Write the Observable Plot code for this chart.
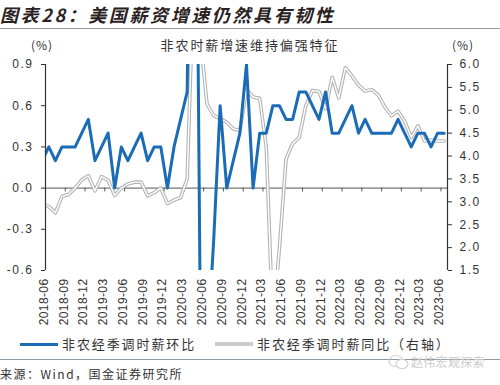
<!DOCTYPE html>
<html><head><meta charset="utf-8">
<script src="https://cdn.jsdelivr.net/npm/d3@7"></script>
<script src="https://cdn.jsdelivr.net/npm/@observablehq/plot@0.6"></script>
<style>
body{margin:0;background:#fff;}
#root{position:relative;width:500px;height:385px;overflow:hidden;background:#fff;font-family:"Noto Sans CJK SC","Noto Sans",sans-serif;color:#333;}
.abs{position:absolute;white-space:nowrap;}
.cn{font-size:13px;line-height:16px;letter-spacing:1.9px;color:#333;}
#chart{position:absolute;left:0;top:30px;}
</style></head><body><div id="root">
<div class="abs" style="left:0;top:3px;font-size:18px;line-height:22px;font-weight:bold;font-style:italic;letter-spacing:2.6px;color:#2a2222;">图表28：美国薪资增速仍然具有韧性</div>
<div class="abs" style="left:0;top:28px;width:500px;height:1px;background:#9a9a9a;"></div>
<div class="abs cn" style="left:31px;top:37px;font-size:12px;letter-spacing:1px;">(%)</div>
<div class="abs cn" style="left:452px;top:37px;font-size:12px;letter-spacing:1px;">(%)</div>
<div class="abs cn" style="left:0;top:37px;width:500px;text-align:center;">非农时薪增速维持偏强特征</div>
<div id="chart"></div>
<div class="abs" style="left:20px;top:343px;width:38px;height:3px;background:#1a6cb6;"></div>
<div class="abs cn" style="left:62px;top:336px;">非农经季调时薪环比</div>
<div class="abs" style="left:215px;top:342px;width:38px;height:4px;background:#cdcdcd;"></div>
<div class="abs cn" style="left:257px;top:336px;">非农经季调时薪同比（右轴）</div>
<div class="abs" style="left:0;top:359px;width:500px;height:1px;background:#8c9aa6;"></div>
<svg class="abs" style="left:388px;top:354px;" width="22" height="16"><ellipse cx="8" cy="7" rx="7" ry="5.5" fill="none" stroke="#cfcfcf" stroke-width="1.2"/><ellipse cx="14" cy="10" rx="6" ry="4.5" fill="#fff" stroke="#cfcfcf" stroke-width="1.2"/></svg>
<div class="abs" style="left:411px;top:354px;font-size:12px;line-height:16px;letter-spacing:0.3px;color:#cbcbcb;">赵伟宏观探索</div>
<div class="abs" style="left:0;top:366px;font-size:12px;line-height:15px;letter-spacing:1.5px;color:#333;">来源：Wind，国金证券研究所</div>
</div>
<script>
const months = [
 "2018-05","2018-06","2018-07","2018-08","2018-09","2018-10","2018-11","2018-12",
 "2019-01","2019-02","2019-03","2019-04","2019-05","2019-06","2019-07","2019-08","2019-09","2019-10","2019-11","2019-12",
 "2020-01","2020-02","2020-03","2020-04","2020-05","2020-06","2020-07","2020-08","2020-09","2020-10","2020-11","2020-12",
 "2021-01","2021-02","2021-03","2021-04","2021-05","2021-06","2021-07","2021-08","2021-09","2021-10","2021-11","2021-12",
 "2022-01","2022-02","2022-03","2022-04","2022-05","2022-06","2022-07","2022-08","2022-09","2022-10","2022-11","2022-12",
 "2023-01","2023-02","2023-03","2023-04","2023-05","2023-06"
];
// 非农经季调时薪环比 (%), left axis
const wageMoM = [
 0.2, 0.3,0.2,0.3,0.3,0.3,0.4,0.5,
 0.2,0.3,0.4,0.0,0.3,0.2,0.3,0.4,0.2,0.3,0.3,0.0,
 0.3,0.5,0.7,4.7,-1.0,-1.2,-0.4,0.6,0.0,0.2,0.4,0.9,
 0.0,0.4,0.4,0.6,0.6,0.5,0.5,0.7,0.7,0.6,0.5,0.7,
 0.4,0.4,0.5,0.6,0.4,0.5,0.4,0.4,0.4,0.4,0.5,0.4,
 0.3,0.4,0.4,0.3,0.4,0.4
];
// 非农经季调时薪同比 (%), right axis
const wageYoY = [
 2.95, 2.9,2.76,3.12,3.16,3.3,3.48,3.57,
 3.24,3.55,3.47,3.14,3.3,3.39,3.43,3.43,3.13,3.2,3.3,2.96,
 3.04,3.09,3.5,8.0,6.6,5.14,4.89,4.81,4.74,4.59,4.56,5.45,
 5.29,5.26,4.2,0.3,2.0,3.94,4.27,4.41,5.1,5.43,5.41,5.03,
 5.72,5.27,5.93,5.75,5.55,5.42,5.45,5.33,5.07,4.88,4.98,4.76,
 4.41,4.66,4.33,4.35,4.33,4.33
];
const xTickLabels = ["2018-06","2018-09","2018-12","2019-03","2019-06","2019-09","2019-12","2020-03","2020-06","2020-09","2020-12","2021-03","2021-06","2021-09","2021-12","2022-03","2022-06","2022-09","2022-12","2023-03","2023-06"];
const leftTicks = [-0.6,-0.3,0,0.3,0.6,0.9];
const rightTicks = [1.5,2.0,2.5,3.0,3.5,4.0,4.5,5.0,5.5,6.0];

const leftDomain = [-0.6, 0.9];
const rightDomain = [1.5, 6.0];
const toLeft = v => leftDomain[0] + (v - rightDomain[0]) * (leftDomain[1]-leftDomain[0])/(rightDomain[1]-rightDomain[0]);
const fromLeft = v => rightDomain[0] + (v - leftDomain[0]) * (rightDomain[1]-rightDomain[0])/(leftDomain[1]-leftDomain[0]);

const base = months.indexOf("2018-06");
const data = months.map((m,i)=>({idx: i-base, month:m, mom: wageMoM[i], yoy: toLeft(wageYoY[i])}));
const xLabelIdx = xTickLabels.map(l => months.indexOf(l) - base);
const lastIdx = months.length - 1 - base;
const boundaries = xLabelIdx.slice(0,-1).map(k => k + 2.5);

const chart = Plot.plot({
  width: 500, height: 300,
  marginTop: 34, marginBottom: 60, marginLeft: 45, marginRight: 53,
  x: {type: "linear", domain: [-0.5, lastIdx + 0.5], axis: null},
  y: {domain: leftDomain},
  style: {fontFamily: "'Liberation Sans', Arial, sans-serif", fontSize: "12px", color: "#333", background: "transparent", overflow: "visible"},
  marks: [
    Plot.ruleY([0], {stroke: "#555", strokeWidth: 1}),
    Plot.ruleX(boundaries, {x: d => d, y1: 0, y2: -0.028, stroke: "#555"}),
    Plot.line(data, {x: "idx", y: "yoy", stroke: "#b3b3b3", strokeWidth: 3.6, clip: true}),
    Plot.line(data, {x: "idx", y: "yoy", stroke: "#ffffff", strokeWidth: 1.4, clip: true}),
    Plot.line(data, {x: "idx", y: "mom", stroke: "#1a6cb6", strokeWidth: 3, clip: true}),
    Plot.ruleX([-0.5], {stroke: "#333", strokeWidth: 1.2}),
    Plot.ruleX([lastIdx + 0.5], {stroke: "#333", strokeWidth: 1.2}),
    Plot.axisY(leftTicks, {anchor: "left", tickSize: 4, tickPadding: 8, tickFormat: d => d.toFixed(1), stroke: "#333", fill: "#333"}),
    Plot.axisY(rightTicks.map(toLeft), {anchor: "right", tickSize: 4, tickPadding: 8, tickFormat: d => fromLeft(d).toFixed(1), stroke: "#333", fill: "#333"}),
    Plot.text(xLabelIdx, {x: d => d, frameAnchor: "bottom", text: (d, i) => xTickLabels[i], rotate: -90, textAnchor: "end", dy: 8, dx: -1, fontSize: 12, fill: "#333"})
  ]
});
d3.select(chart).selectAll('g[aria-label="y-axis tick label"] text').style("letter-spacing", "1.5px");
d3.select(chart).selectAll('g[aria-label="text"] text').style("letter-spacing", "0.4px");
document.getElementById("chart").appendChild(chart);
</script>
</body></html>
